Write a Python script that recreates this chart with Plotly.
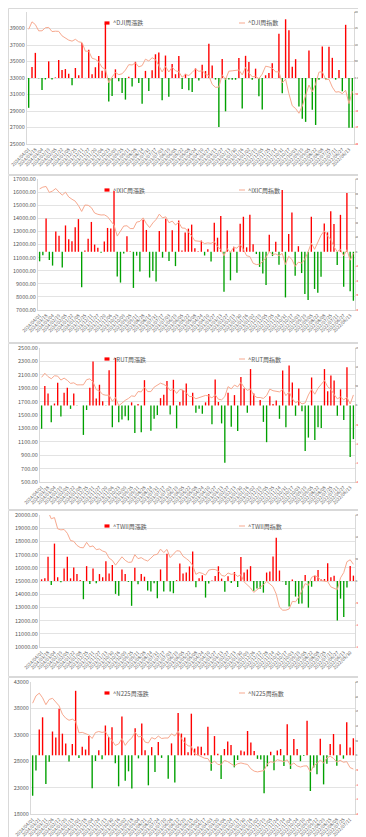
import datetime as dt
import plotly.graph_objects as go

# ---------------- data (reverse chronological: newest week first) ----------------
dji_close = [38904.04, 39807.37, 39475.90, 38714.77, 38722.69, 39087.38, 39131.53, 38627.99, 38671.69, 38654.42,
             38109.43, 37863.80, 37592.98, 37466.11, 37689.54, 37385.97, 37305.16, 36247.87, 36245.50, 35390.15,
             35273.03, 34947.28, 34283.10, 34061.32, 32417.59, 33127.28, 33670.29, 33407.58, 33507.50, 33963.84,
             34618.24, 34576.59, 34837.71, 34346.90, 34500.66, 35281.40, 35065.62, 35459.29, 35227.69, 34509.03,
             33734.88, 34407.60, 33727.43, 34299.12, 33876.78, 33762.76, 33093.34, 33426.63, 33300.62, 33674.38,
             34098.16, 33808.96, 33886.47, 33485.29, 33274.15, 32237.53, 31861.98, 31909.64, 33390.97, 32816.92,
             33826.69, 33869.27, 33926.01, 33978.08, 33375.49, 34302.61, 33630.61, 33147.25, 33203.93, 32920.46,
             33476.46, 34429.88, 34347.03, 34194.06, 33745.69, 33747.86, 32403.22, 32861.80, 31082.56, 29634.83,
             29296.79, 28725.51, 29590.41, 30822.42, 32151.71, 31318.44, 32283.40, 33706.74, 33761.05, 32803.47,
             32845.13, 31899.29, 31288.26, 31338.15, 31097.26, 31500.68, 29888.78, 31392.79]
dji_chg = [-903.33, 331.47, 761.13, -7.92, -364.69, -44.15, 503.54, -43.70, 17.27, 544.99,
           245.63, 270.82, 126.87, -223.43, 303.57, 80.81, 1057.29, 2.37, 855.35, 117.12,
           325.75, 664.18, 221.78, 1643.73, -709.69, -543.01, 262.71, -99.92, -456.34, -654.40,
           41.65, -261.12, 490.81, -153.76, -780.74, 215.78, -393.67, 231.60, 718.66, 774.15,
           -672.72, 680.17, -571.69, 422.34, 114.02, 669.42, -333.29, 126.01, -373.76, -423.78,
           289.20, -77.51, 401.18, 211.14, 1036.62, 375.55, -47.66, -1481.33, 574.05, -1009.77,
           -42.58, -56.74, -52.07, 602.59, -927.12, 672.00, 483.36, -56.68, 283.47, -556.00,
           -953.42, 82.85, 152.97, 448.37, -2.17, 1344.64, -458.58, 1779.24, 1447.73, 338.04,
           571.28, -864.90, -1232.01, -1329.29, 833.27, -964.96, -1423.34, -54.31, 957.58, -41.66,
           945.84, 611.03, -49.89, 240.89, -403.42, 1611.90, -1504.01, -1506.91]

ixic_close = [16248.52, 16379.46, 16428.82, 15973.17, 16085.11, 16274.94, 15996.82, 15775.65, 15990.66, 15628.95,
              15455.36, 15310.97, 14972.76, 14524.07, 15011.35, 14992.97, 14813.92, 14403.97, 14305.03, 14250.85,
              14265.86, 14125.48, 13798.11, 13478.28, 12643.01, 12983.81, 13407.23, 13431.34, 13219.32, 13211.81,
              13708.33, 13761.53, 14031.82, 13590.65, 13290.78, 13644.85, 13909.24, 14316.66, 14032.81, 14113.70,
              13660.72, 13787.92, 13492.52, 13689.57, 13259.14, 13240.77, 12975.69, 12657.90, 12284.74, 12235.41,
              12226.58, 12072.46, 12123.47, 12087.96, 12221.91, 11823.96, 11630.51, 11138.89, 11689.01, 11394.94,
              11787.27, 11718.12, 12006.96, 11621.71, 11140.43, 11079.16, 10569.29, 10466.48, 10497.86, 10705.41,
              11004.62, 11461.50, 11226.36, 11285.32, 11146.06, 11323.33, 10475.25, 11102.45, 10859.72, 10321.39,
              10652.41, 10575.62, 10867.93, 11448.40, 12112.31, 11630.86, 12141.71, 12705.22, 13047.19, 12657.55,
              12390.69, 11834.11, 11452.42, 11635.31, 11127.85, 11607.62, 10798.35, 11340.02]
ixic_chg = [-130.94, -49.36, 455.65, -111.94, -189.83, 278.12, 221.17, -215.01, 361.71, 173.59,
            144.39, 338.21, 448.69, -487.28, 18.38, 179.05, 409.95, 98.94, 54.18, -15.01,
            140.38, 327.37, 319.83, 835.27, -340.80, -423.42, -24.11, 212.02, 7.51, -496.52,
            -53.20, -270.29, 441.17, 299.87, -354.07, -264.39, -407.42, 283.85, -80.89, 452.98,
            -127.20, 295.40, -197.05, 430.43, 18.37, 265.08, 317.79, 373.16, 49.33, 8.83,
            154.12, -51.01, 35.51, -133.95, 397.95, 193.45, 491.62, -550.12, 294.07, -392.33,
            69.15, -288.84, 385.25, 481.28, 61.27, 509.87, 102.81, -31.38, -207.55, -299.21,
            -456.88, 235.14, -58.96, 139.26, -177.27, 848.08, -627.20, 242.73, 538.33, -331.02,
            76.79, -292.31, -580.47, -663.91, 481.45, -510.85, -563.51, -341.97, 389.64, 266.86,
            556.58, 381.69, -182.89, 507.46, -479.77, 809.27, -541.67, -672.71]

rut_close = [2062.4, 2123.4, 2072.4, 2041.4, 2085.4, 2080.4, 2021.4, 2050.4, 2017.4, 1971.4,
             1980.4, 1949.4, 1950.4, 1950.4, 2027.4, 2039.4, 1993.4, 1878.4, 1860.4, 1806.4,
             1795.4, 1796.4, 1704.4, 1761.4, 1637.4, 1681.4, 1718.4, 1746.4, 1785.4, 1777.4,
             1849.4, 1845.4, 1915.4, 1849.4, 1849.4, 1915.4, 1950.4, 1975.4, 1956.4, 1928.4,
             1864.4, 1888.4, 1821.4, 1881.4, 1872.4, 1832.4, 1775.4, 1775.4, 1742.4, 1761.4,
             1770.4, 1792.4, 1784.4, 1754.4, 1803.4, 1735.4, 1726.4, 1773.4, 1923.4, 1890.4,
             1946.4, 1919.4, 1986.4, 1912.4, 1868.4, 1887.4, 1792.4, 1761.4, 1761.4, 1747.4,
             1790.4, 1886.4, 1862.4, 1858.4, 1845.4, 1880.4, 1789.4, 1846.4, 1742.4, 1682.4,
             1709.4, 1665.4, 1680.4, 1799.4, 1883.4, 1810.4, 1900.4, 1957.4, 2016.4, 1921.4,
             1884.4, 1806.4, 1741.4, 1768.4, 1726.4, 1764.4, 1664.4, 1799.4]
rut_chg = [-61, 51, 31, -44, 5, 59, -29, 33, 46, -9,
           31, -1, 0, -77, -12, 46, 115, 18, 54, 11,
           -1, 92, -57, 124, -44, -37, -28, -39, 8, -72,
           4, -70, 66, 0, -66, -35, -25, 19, 28, 64,
           -24, 67, -60, 9, 40, 57, 0, 33, -19, -9,
           -22, 8, 30, -49, 68, 9, -47, -150, 33, -56,
           27, -67, 74, 44, -19, 95, 31, 0, 14, -43,
           -96, 24, 4, 13, -35, 91, -57, 104, 60, -27,
           44, -15, -119, -84, 73, -90, -57, -59, 95, 37,
           78, 65, -27, 42, -38, 100, -135, -88]

twii_close = [20363, 20325, 20265, 19715, 19805, 18955, 18872, 18902, 18616, 18066,
              18006, 17698, 17540, 17515, 17929, 17591, 17659, 17373, 17426, 17268,
              17185, 16735, 16562, 16201, 16494, 16832, 16569, 16411, 16431, 16995,
              16695, 16770, 16612, 16514, 16732, 16972, 17025, 17416, 17153, 17393,
              16773, 17013, 17291, 17271, 16873, 16700, 16505, 16174, 15502, 15643,
              15579, 15446, 15823, 15879, 15868, 15757, 15422, 15367, 15609, 15503,
              15550, 15346, 15480, 14932, 14738, 14475, 14137, 14358, 14528, 14705,
              14970, 14778, 14562, 14007, 13026, 12788, 12791, 12880, 13457, 13424,
              13778, 14295, 14807, 14673, 15278, 15408, 15288, 15036, 15000, 14954,
              14552, 14464, 14343, 15240, 15641, 16460, 16605, 16266]
twii_chg = [38, 60, 550, -90, 850, 83, -30, 286, 550, 60,
            308, 158, 25, -414, 338, -68, 286, -53, 158, 83,
            450, 173, 361, -293, -338, 263, 158, -20, -564, 300,
            -75, 158, 98, -218, -240, -53, -391, 263, -240, 620,
            -240, -278, 20, 398, 173, 195, 331, 672, -141, 64,
            133, -377, -56, 11, 111, 335, 55, -242, 106, -47,
            204, -134, 548, 194, 263, 338, -221, -170, -177, -265,
            192, 216, 555, 981, 238, -3, -89, -577, 33, -354,
            -517, -512, 134, -605, -130, 120, 252, 36, 46, 402,
            88, 121, -897, -401, -819, -145, 339, 122]

n225_close = [38992.08, 40369.44, 40888.43, 40003.60, 38707.64, 39688.94, 39910.82, 39098.68, 38487.24, 36897.42,
              36158.02, 35751.07, 35963.27, 35577.11, 33377.42, 33464.17, 33169.05, 32970.55, 32307.86, 33431.51,
              33625.53, 33451.83, 33585.20, 32568.11, 31949.89, 30991.69, 31259.36, 32315.99, 30994.67, 31857.62,
              32402.41, 33533.09, 32606.84, 32710.62, 31624.28, 31450.76, 32473.65, 32192.75, 32759.23, 32304.25,
              32391.26, 32388.42, 33189.04, 32781.54, 33706.08, 32265.17, 31524.22, 30916.31, 30808.35, 29388.30,
              29157.95, 28856.44, 28564.37, 28493.47, 27518.25, 28041.48, 27385.25, 27333.79, 28143.97, 27927.47,
              27453.48, 27104.32, 27513.13, 27670.98, 27509.46, 27382.56, 26553.53, 26119.52, 25973.85, 26094.50,
              26235.25, 27527.12, 27901.01, 27777.90, 28283.03, 28115.74, 27899.77, 28263.57, 27199.74, 27663.39,
              27105.20, 26890.58, 27090.76, 27116.11, 25937.21, 27153.83, 27567.65, 28214.75, 27650.84, 28641.38,
              28930.33, 28546.98, 27819.33, 28175.87, 27801.64, 27914.66, 26788.47, 26517.19]
n225_chg = [-1377.36, -518.99, 884.83, 1295.96, -981.30, -221.88, 812.14, 611.44, 1589.82, 739.40,
            406.95, -212.20, 386.16, 2199.69, -86.75, 295.12, 198.50, 662.69, -1123.65, -194.02,
            173.70, -133.37, 1017.09, 618.22, 958.20, -267.67, -1056.63, 1321.32, -862.95, -544.79,
            -1130.68, 926.25, -103.78, 1086.34, 173.52, -1022.89, 280.90, -566.48, 454.98, -87.01,
            2.84, -800.62, 407.50, -924.54, 1440.91, 740.95, 607.91, 107.96, 1420.05, 230.35,
            301.51, 292.07, 70.90, 975.22, -523.23, 656.23, 51.46, -810.18, 216.50, 473.99,
            349.16, -408.81, -157.85, 161.52, 126.90, 829.03, 434.01, 145.67, -120.65, -140.75,
            -1291.87, -373.89, 123.11, -505.13, 167.29, 215.97, -363.80, 1063.83, -463.65, 558.19,
            214.62, -200.18, -25.35, 1178.90, -1216.62, -413.82, -647.10, 563.91, -990.54, -288.95,
            383.35, 727.65, -356.54, 374.23, -113.02, 1126.19, 271.28, 581.57]


def week_labels(last_monday, n_weeks, splits=None, skips=()):
    """Row labels (week start dates), newest first; split weeks give two rows."""
    splits = splits or {}
    out = []
    d0 = dt.date.fromisoformat(last_monday)
    for i in range(n_weeks):
        wk = d0 - dt.timedelta(weeks=i)
        key = wk.isoformat()
        if key in skips:
            continue
        if key in splits:
            out.append(dt.date.fromisoformat(splits[key]).strftime("%Y/%m/%d"))
        out.append(wk.strftime("%Y/%m/%d"))
    return out


us_labels = week_labels("2024-04-01", 96, {"2023-11-20": "2023-11-24", "2022-11-21": "2022-11-25"})
twii_labels = week_labels("2024-04-01", 98, {"2023-10-09": "2023-10-12"}, skips=("2023-01-23",))
n225_labels = week_labels("2024-04-01", 92, {"2024-03-18": "2024-03-21", "2023-11-20": "2023-11-24",
                                             "2023-02-20": "2023-02-24", "2022-11-21": "2022-11-24",
                                             "2022-10-31": "2022-11-04", "2022-08-08": "2022-08-12"})

# ---------------- layout description ----------------
W, H = 366, 837
FONT = "Noto Sans CJK TC, Noto Sans, sans-serif"
GREY = "#595959"
RED = "#FF0000"
GREEN = "#00A000"
LINE = "#F7A98F"
GRID = "#E3E3E3"

panels = [
    dict(name="^DJI", labels=us_labels, close=dji_close, chg=dji_chg,
         box=(19, 346, 4, 136), left=(25000, 41000, 2000, ".0f"), right=(-2000, 2000, 500),
         chart=(0, 167), leg_y=15),
    dict(name="^IXIC", labels=us_labels, close=ixic_close, chg=ixic_chg,
         box=(30, 347, 171, 302), left=(7000, 17000, 1000, ".2f"), right=(-800, 1000, 200),
         chart=(167, 335), leg_y=182),
    dict(name="^RUT", labels=us_labels, close=rut_close, chg=rut_chg,
         box=(32, 347, 340, 474), left=(500, 2500, 200, ".2f"), right=(-200, 150, 50),
         chart=(335, 502), leg_y=351),
    dict(name="^TWII", labels=twii_labels, close=twii_close, chg=twii_chg,
         box=(32, 347, 507, 639), left=(10000, 20000, 1000, ".2f"), right=(-1500, 1500, 500),
         chart=(502, 669), leg_y=518),
    dict(name="^N225", labels=n225_labels, close=n225_close, chg=n225_chg,
         box=(23, 347, 674, 806), left=(18000, 43000, 5000, ".0f"), right=(-2000, 2500, 500),
         chart=(669, 837), leg_y=685),
]

fig = go.Figure()
layout = dict(width=W, height=H, margin=dict(l=0, r=0, t=0, b=0),
              paper_bgcolor="white", plot_bgcolor="rgba(0,0,0,0)",
              showlegend=False, bargap=0.58, font=dict(family=FONT, color=GREY, size=6))
shapes, annotations = [], []


def px_x(x):
    return x / W


def px_y(y):
    return 1 - y / H


for k, p in enumerate(panels, start=1):
    xl, xr, yt, yb = p["box"]
    n = len(p["labels"])
    xname = "x" if k == 1 else f"x{k}"
    xkey = "xaxis" if k == 1 else f"xaxis{k}"
    ib, il = 2 * k - 1, 2 * k
    yb_name = "y" if ib == 1 else f"y{ib}"
    yb_key = "yaxis" if ib == 1 else f"yaxis{ib}"
    yl_name, yl_key = f"y{il}", f"yaxis{il}"

    colors = [RED if v >= 0 else GREEN for v in p["chg"]]
    fig.add_trace(go.Bar(x=p["labels"], y=p["chg"], xaxis=xname, yaxis=yb_name,
                         marker=dict(color=colors, line=dict(width=0)),
                         name=f"{p['name']}周漲跌"))
    fig.add_trace(go.Scatter(x=p["labels"], y=p["close"], xaxis=xname, yaxis=yl_name,
                             mode="lines", line=dict(color=LINE, width=1),
                             name=f"{p['name']}周指數"))

    dom_x = [px_x(xl), px_x(xr)]
    dom_y = [px_y(yb), px_y(yt)]
    layout[xkey] = dict(domain=dom_x, anchor=yb_name, type="category",
                        range=[-0.5, n - 0.5], dtick=2, tickangle=-45,
                        tickfont=dict(size=4.6, color=GREY, family=FONT),
                        showgrid=False, showline=True, linecolor="#D9D9D9", linewidth=1,
                        ticks="", zeroline=False, automargin=False)
    r0, r1, rd = p["right"]
    rvals = list(range(r0, r1 + 1, rd))
    rtext = [f"{v:.2f}" if v >= 0 else f'<span style="color:{RED}">{v:.2f}</span>' for v in rvals]
    layout[yb_key] = dict(domain=dom_y, anchor=xname, side="right", range=[r0, r1],
                          tickvals=rvals, ticktext=rtext, showgrid=False, zeroline=False,
                          showline=True, linecolor="#D9D9D9", linewidth=1, ticks="",
                          ticklabelstandoff=-1,
                          tickfont=dict(size=2.8, color=GREY, family=FONT), automargin=False)
    l0, l1, ld, lf = p["left"]
    layout[yl_key] = dict(overlaying=yb_name, anchor=xname, side="left", range=[l0, l1],
                          tick0=l0, dtick=ld, tickformat=lf, showgrid=True, gridcolor=GRID,
                          gridwidth=1, zeroline=False, showline=True, linecolor="#D9D9D9",
                          linewidth=1, ticks="", tickfont=dict(size=5.5, color=GREY, family=FONT),
                          automargin=False)

    # chart-area frame
    c0, c1 = p["chart"]
    shapes.append(dict(type="rect", xref="paper", yref="paper", x0=px_x(0.5), x1=px_x(W - 0.5),
                       y0=px_y(c1 - 0.5), y1=px_y(c0 + 0.5), line=dict(color="#D9D9D9", width=1),
                       fillcolor="rgba(0,0,0,0)", layer="below"))
    # legend: bar swatch + text, line swatch + text
    ly = p["leg_y"]
    shapes.append(dict(type="rect", xref="paper", yref="paper", x0=px_x(96.5), x1=px_x(101.5),
                       y0=px_y(ly + 1.6), y1=px_y(ly - 1.6), line=dict(width=0), fillcolor=RED))
    annotations.append(dict(xref="paper", yref="paper", x=px_x(103), y=px_y(ly), text=f"{p['name']}周漲跌",
                            showarrow=False, xanchor="left", yanchor="middle",
                            font=dict(size=6, color=GREY, family=FONT)))
    shapes.append(dict(type="line", xref="paper", yref="paper", x0=px_x(231), x1=px_x(237),
                       y0=px_y(ly), y1=px_y(ly), line=dict(color=LINE, width=1)))
    annotations.append(dict(xref="paper", yref="paper", x=px_x(238), y=px_y(ly), text=f"{p['name']}周指數",
                            showarrow=False, xanchor="left", yanchor="middle",
                            font=dict(size=6, color=GREY, family=FONT)))

layout["shapes"] = shapes
layout["annotations"] = annotations
fig.update_layout(**layout)
fig.write_html("out.html", config={"staticPlot": True})
